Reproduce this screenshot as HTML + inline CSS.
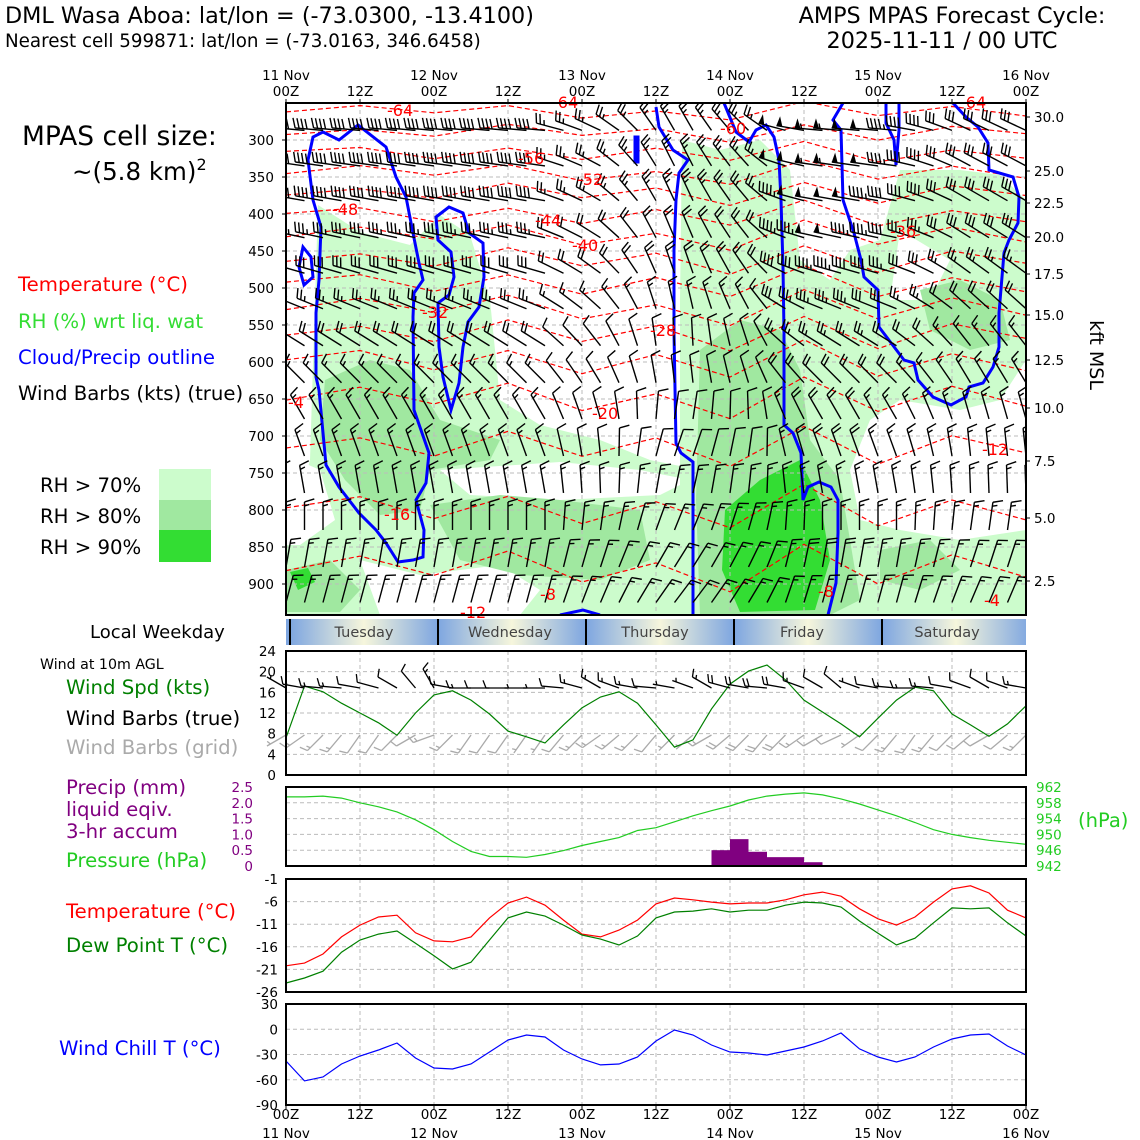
<!DOCTYPE html>
<html><head><meta charset="utf-8"><style>
body{margin:0;background:#fff}
svg{display:block;font-family:"DejaVu Sans","Liberation Sans",sans-serif}
</style></head><body>
<svg id="c" width="1140" height="1140" viewBox="0 0 1140 1140" xmlns="http://www.w3.org/2000/svg">
<defs>
<linearGradient id="wk" x1="0" x2="1" y1="0" y2="0">
<stop offset="0" stop-color="#7ea6e0"/><stop offset="0.5" stop-color="#f6f6dc"/><stop offset="1" stop-color="#7ea6e0"/>
</linearGradient>
<clipPath id="mainClip"><rect x="286" y="103" width="740" height="512"/></clipPath>
</defs>
<g>
<text x="5" y="23" font-size="22.3">DML Wasa Aboa: lat/lon = (-73.0300, -13.4100)</text>
<text x="5" y="47" font-size="18.3">Nearest cell 599871: lat/lon = (-73.0163, 346.6458)</text>
<text x="952" y="23" font-size="22.3" text-anchor="middle">AMPS MPAS Forecast Cycle:</text>
<text x="942" y="48" font-size="22.3" text-anchor="middle">2025-11-11 / 00 UTC</text>
</g>
<g font-size="19.7">
<text x="22" y="145" font-size="26.5">MPAS cell size:</text>
<text x="72" y="180" font-size="24.5">~(5.8 km)<tspan dy="-10" font-size="16">2</tspan></text>
<text x="18" y="291" fill="#ff0000">Temperature (°C)</text>
<text x="18" y="328" fill="#33dd33">RH (%) wrt liq. wat</text>
<text x="18" y="364" fill="#0000ff">Cloud/Precip outline</text>
<text x="18" y="400">Wind Barbs (kts) (true)</text>
<text x="40" y="492">RH &gt; 70%</text>
<text x="40" y="523">RH &gt; 80%</text>
<text x="40" y="554">RH &gt; 90%</text>
<rect x="159" y="469" width="52" height="31" fill="#ccfccc"/>
<rect x="159" y="500" width="52" height="30" fill="#a0e8a0"/>
<rect x="159" y="530" width="52" height="32" fill="#33dd33"/>
<text x="90" y="638" font-size="18">Local Weekday</text>
<text x="40" y="669" font-size="14.2">Wind at 10m AGL</text>
<text x="66" y="694" fill="#008000">Wind Spd (kts)</text>
<text x="66" y="725">Wind Barbs (true)</text>
<text x="66" y="754" fill="#aaaaaa">Wind Barbs (grid)</text>
<text x="66" y="794" fill="#800080">Precip (mm)</text>
<text x="66" y="816" fill="#800080">liquid eqiv.</text>
<text x="66" y="838" fill="#800080">3-hr accum</text>
<text x="66" y="867" fill="#22cc22">Pressure (hPa)</text>
<text x="66" y="918" fill="#ff0000">Temperature (°C)</text>
<text x="66" y="952" fill="#008000">Dew Point T (°C)</text>
<text x="59" y="1055" fill="#0000ff">Wind Chill T (°C)</text>
</g>
<g id="mainfill" clip-path="url(#mainClip)">
<path fill="#ccfccc" d="M318,205 L360,232 L410,245 L440,215 L470,235 L490,300 L500,400 L540,425 L600,440 L650,460 L700,470 L700,615 L286,615 L286,540 L300,500 L310,460 L315,300 Z"/>
<path fill="#ffffff" d="M440,470 L560,462 L640,470 L690,480 L660,495 L560,500 L470,495 Z"/>
<path fill="#ffffff" d="M286,455 L320,470 L335,520 L300,545 L286,545 Z"/>
<path fill="#ffffff" d="M360,560 L420,575 L500,565 L540,590 L520,615 L380,615 Z"/>
<path fill="#ccfccc" d="M682,140 L720,150 L760,140 L790,170 L800,260 L830,280 L850,250 L880,240 L900,170 L960,170 L1000,175 L1026,200 L1026,360 L1000,400 L960,410 L900,400 L870,420 L850,470 L860,520 L900,530 L960,540 L1026,530 L1026,615 L680,615 L680,300 Z"/>
<path fill="#ffffff" d="M880,420 L1000,410 L1026,420 L1026,525 L960,530 L900,515 L860,470 Z"/>
<path fill="#ffffff" d="M900,230 L950,260 L930,300 L890,300 Z"/>
<path fill="#a0e8a0" d="M325,380 L370,360 L410,370 L440,420 L500,440 L490,460 L430,470 L420,510 L380,515 L345,480 L320,440 Z"/>
<path fill="#a0e8a0" d="M430,505 L500,495 L560,500 L640,510 L650,560 L600,580 L520,575 L460,560 Z"/>
<path fill="#a0e8a0" d="M286,570 L330,560 L360,590 L340,612 L286,612 Z"/>
<path fill="#a0e8a0" d="M700,350 L740,320 L780,330 L800,370 L810,440 L840,480 L850,540 L860,600 L830,615 L700,615 L696,500 Z"/>
<path fill="#a0e8a0" d="M920,290 L960,280 L1000,300 L1010,340 L970,350 L930,330 Z"/>
<path fill="#a0e8a0" d="M880,550 L930,540 L960,570 L920,590 L880,580 Z"/>
<path fill="#33dd33" d="M725,510 L760,480 L800,460 L820,500 L830,560 L815,610 L740,612 L722,570 Z"/>
<path fill="#33dd33" d="M290,572 L308,568 L315,582 L298,590 Z"/>
</g>
<g id="grid-main"></g>
<g id="temps" clip-path="url(#mainClip)"></g>
<g id="clouds" clip-path="url(#mainClip)" fill="none" stroke="#0000ff" stroke-width="3">
<path d="M323,132 L339,140 L358,125 L386,147 L396,177 L406,197 L413,233 L419,263 L423,280 L414,293 L413,317 L414,410 L429,453 L426,483 L416,500 L424,530 L423,557 L413,560 L398,562 L386,543 L376,530 L359,513 L339,487 L326,465 L319,390 L316,377 L316,313 L319,280 L321,227 L313,200 L308,160 L313,137 Z"/>
<path d="M303,247 L311,257 L313,277 L304,285 L299,267 Z"/>
<path d="M449,207 L463,213 L469,233 L483,243 L484,277 L479,307 L468,322 L463,347 L459,383 L451,410 L443,377 L439,347 L438,303 L449,295 L454,277 L451,252 L438,240 L436,217 Z"/>
<path d="M560,615 L583,610 L600,615"/>
<path d="M635,162 L635,137 L638,137 L638,162 Z"/>
<path d="M656,107 L659,127 L673,150 L688,160 L679,173 L676,200 L674,250 L674,333 L676,443 L681,453 L693,462 L693,615"/>
<path d="M724,103 L736,132 L749,142 L756,130 L766,125 L774,137 L779,160 L781,200 L783,267 L784,333 L784,425 L793,433 L801,453 L803,500 L808,487 L819,482 L831,487 L838,500 L838,533 L836,583 L828,615"/>
<path d="M843,103 L833,120 L841,130 L843,200 L854,233 L861,260 L864,277 L878,290 L879,327 L904,360 L914,363 L918,380 L933,397 L951,405 L966,397 L969,387 L983,383 L993,367 L999,347 L999,313 L1004,253 L1009,240 L1018,223 L1019,197 L1013,177 L989,170 L988,143 L978,127 L966,117 L953,103"/>
<path d="M886,103 L886,123 L894,140 L896,165 L899,130 L899,103"/>
</g>
<g id="barbs" clip-path="url(#mainClip)"></g>
<g id="tlabels" font-size="16" fill="#ff0000">
<text x="387" y="116">-64</text><text x="552" y="108">-64</text><text x="960" y="108">-64</text>
<text x="720" y="134">-60</text><text x="518" y="164">-56</text><text x="577" y="185">-52</text>
<text x="332" y="215">-48</text><text x="535" y="226">-44</text><text x="572" y="251">-40</text>
<text x="890" y="237">-36</text><text x="422" y="318">-32</text><text x="650" y="336">-28</text>
<text x="592" y="419">-20</text><text x="288" y="408">-4</text><text x="982" y="455">-12</text>
<text x="384" y="520">-16</text><text x="540" y="600">-8</text><text x="818" y="597">-8</text>
<text x="460" y="618">-12</text><text x="984" y="606">-4</text>
</g>
<rect x="286" y="103" width="740" height="512" fill="none" stroke="#000" stroke-width="2"/>
<g id="axes"></g>
<g>
<rect x="286" y="619" width="740" height="26" fill="#7ea6e0"/>
<rect x="290" y="619" width="148" height="26" fill="url(#wk)"/>
<rect x="438" y="619" width="148" height="26" fill="url(#wk)"/>
<rect x="586" y="619" width="148" height="26" fill="url(#wk)"/>
<rect x="734" y="619" width="148" height="26" fill="url(#wk)"/>
<rect x="882" y="619" width="148" height="26" fill="url(#wk)"/>
<rect x="1026" y="619" width="10" height="26" fill="#fff"/>
<g stroke="#000" stroke-width="2"><line x1="290" y1="619" x2="290" y2="645"/><line x1="438" y1="619" x2="438" y2="645"/><line x1="586" y1="619" x2="586" y2="645"/><line x1="734" y1="619" x2="734" y2="645"/><line x1="882" y1="619" x2="882" y2="645"/></g>
<g font-size="14.5" fill="#444" text-anchor="middle">
<text x="364" y="637">Tuesday</text><text x="510" y="637">Wednesday</text><text x="655" y="637">Thursday</text><text x="802" y="637">Friday</text><text x="947" y="637">Saturday</text></g>
</g>
<g id="plots"></g>
<text transform="translate(1090,355) rotate(90)" font-size="19" text-anchor="middle">kft MSL</text>
<text x="1078" y="827" font-size="19.5" fill="#22cc22">(hPa)</text>
</svg>
<script>
// ---------- data ----------
const hours = Array.from({length:41},(_,i)=>i*3);
const windSpd = [7.2,17.2,16.1,13.9,12,10.1,7.7,12,15.5,16.3,14.5,11.8,8.5,7.4,6.2,9.7,13,15.1,16.1,13.9,9.7,5.4,6.8,12.8,17.6,20.1,21.3,18.4,14.5,12.2,9.9,7.4,11,14.5,17,16.3,11.8,9.7,7.5,9.9,13.4];
const windDir10 = [300,280,275,275,280,285,300,320,330,280,270,270,270,270,270,275,285,300,290,280,275,280,290,300,285,280,275,280,290,300,310,290,280,275,270,275,280,290,300,290,280];
const gridDir10 = [240,235,225,220,215,215,225,240,250,225,215,215,215,215,215,220,225,235,230,225,220,225,230,240,230,225,220,225,235,240,245,235,225,220,215,220,225,230,240,230,225];
const pressure = [959.5,959.5,959.7,959.2,958,957,955.7,953.7,951.2,948.2,945.7,944.4,944.4,944.2,944.9,945.9,947.2,948.2,949.2,951,951.7,953.2,954.7,956,957.2,958.7,959.7,960.2,960.5,960,959,957.7,956.2,954.7,953,951.2,950,949.2,948.5,948,947.5];
const precip = [0,0,0,0,0,0,0,0,0,0,0,0,0,0,0,0,0,0,0,0,0,0,0,0.5,0.85,0.45,0.28,0.28,0.12,0,0,0,0,0,0,0,0,0,0,0,0];
const temp2m = [-20.2,-19.6,-17.6,-13.8,-11.2,-9.4,-9.0,-12.9,-14.7,-14.9,-13.8,-9.6,-6.3,-5.0,-6.8,-10.1,-13.2,-13.8,-12.3,-10.1,-6.5,-5.2,-5.6,-6.1,-6.5,-6.3,-6.3,-5.6,-4.5,-3.9,-4.8,-7.6,-9.8,-11.2,-9.4,-6.1,-3.2,-2.5,-4.1,-7.9,-9.6];
const dewpt = [-24,-22.9,-21.4,-17.2,-14.5,-13.2,-12.5,-15.2,-18,-20.9,-19.4,-14.5,-9.6,-8.3,-9.2,-11.2,-13.4,-14.3,-15.6,-13.6,-9.6,-8.3,-8.1,-7.6,-8.3,-7.9,-7.9,-6.8,-6.1,-6.3,-7.2,-10.3,-13,-15.6,-14.1,-10.7,-7.4,-7.6,-7.4,-10.7,-13.6];
const windChill = [-37.7,-61.4,-56.7,-41.3,-31.8,-24.6,-16.3,-34.1,-46,-47.2,-41.3,-27,-12.8,-6.8,-9.2,-24.6,-35.3,-42.4,-41.3,-33,-14,-0.9,-6.8,-18.7,-27,-28.2,-30.6,-25.8,-21.1,-14,-4.4,-23.4,-33,-38.9,-33,-21.1,-11.6,-6.8,-5.6,-19.9,-30.6];
// upper-air winds
const barbLevels = [287,335,382,432,480,528,578,628,677,727,777,827,877,925];
const levelSpd = [40,40,38,36,32,26,20,17,15,15,15,15,16,15];
const levelDir = [275,278,280,282,286,292,302,315,330,340,350,0,10,15];
const timeSpdFac = [1,1,1,1,1,1,1,1,1,1,1,1,1,1,1,0.6,0.6,0.6,0.6,0.6,0.6,0.6,0.6,0.6,0.6,0.6,0.6,1.2,1.3,1.35,1.35,1.3,1.2,1.1,1,1,0.8,0.8,0.8,0.8,0.8];
const timeDirOff = [0,0,0,0,0,0,0,0,0,0,0,0,0,0,0,10,15,20,30,40,50,55,55,50,45,40,30,10,5,0,0,0,0,0,5,10,15,20,20,20,20];
// temperature contours (value, base pressure)
const contourVals = [-64,-60,-56,-52,-48,-44,-40,-36,-32,-28,-24,-20,-16,-12,-8,-4];
const contourBaseP = [262,290,318,345,372,402,430,462,495,528,562,600,650,715,800,880];
const contourWobble = [0,-6,4,-8,6,-4,10,-12,8,-6,4];
// axis ticks
const pTicks = [300,350,400,450,500,550,600,650,700,750,800,850,900];
const kftTicks = [["30.0",117],["25.0",171],["22.5",203],["20.0",237],["17.5",274],["15.0",315],["12.5",360],["10.0",408],["7.5",461],["5.0",518],["2.5",581]];
const spdTicks = [0,4,8,12,16,20,24];
const precipTicks = [0,0.5,1.0,1.5,2.0,2.5];
const presTicks = [942,946,950,954,958,962];
const tempTicks = [-26,-21,-16,-11,-6,-1];
const chillTicks = [-90,-60,-30,0,30];
const dayLabels = ["11 Nov","12 Nov","13 Nov","14 Nov","15 Nov","16 Nov"];

// ---------- scales ----------
const NS="http://www.w3.org/2000/svg";
const X0=286,X1=1026;
const xT=h=>X0+h*(X1-X0)/120;
const yP=p=>140+(p-300)*0.74;
const yW=v=>775-v*124/24;
const yPr=m=>866-m*79/2.5;
const yPs=h=>866-(h-942)*79/20;
const yT=c=>879+(-1-c)*113/25;
const yC=c=>1004+(30-c)*101/120;
function el(tag,attrs,parent){const e=document.createElementNS(NS,tag);for(const k in attrs)e.setAttribute(k,attrs[k]);parent.appendChild(e);return e;}

const gm=document.getElementById('grid-main');
for(let h=0;h<=120;h+=12){el('line',{x1:xT(h),x2:xT(h),y1:103,y2:615,stroke:'#bbb','stroke-dasharray':'4,3'},gm);}
pTicks.forEach(p=>{el('line',{x1:X0,x2:X1,y1:yP(p),y2:yP(p),stroke:'#bbb','stroke-dasharray':'4,3'},gm);});

const tg=document.getElementById('temps');
contourVals.forEach((v,k)=>{
  let d='';
  for(let i=0;i<contourWobble.length;i++){
    const p=contourBaseP[k]+contourWobble[i]*(1+k*0.12)+(k%2?3:-3)*Math.sin(i+k);
    d+=(i?'L':'M')+xT(i*12).toFixed(1)+','+yP(p).toFixed(1);
  }
  const pth=el('path',{d:d,fill:'none',stroke:'#ff0000','stroke-width':1.2,'stroke-dasharray':'5,3'},tg);
  
  
});

function barb(parent,x,y,spd,dir,L,color,w){
  const g=el('g',{stroke:color,'stroke-width':w,fill:color},parent);
  const r=Math.round(spd/5)*5;
  if(r<5){el('circle',{cx:x,cy:y,r:4,fill:'none'},g);return g;}
  const a=dir*Math.PI/180, sx=Math.sin(a), sy=-Math.cos(a);
  const tx=x+sx*L, ty=y+sy*L;
  el('line',{x1:x,y1:y,x2:tx,y2:ty},g);
  const px=-sy, py=sx, h=L*0.35;
  let n=r, pos=0;
  while(n>=50){const bx=tx-sx*pos,by=ty-sy*pos;
    el('polygon',{points:`${bx},${by} ${bx+px*h-sx*2},${by+py*h-sy*2} ${bx-sx*6},${by-sy*6}`,stroke:'none'},g);pos+=7;n-=50;}
  while(n>=10){const bx=tx-sx*pos,by=ty-sy*pos;
    el('line',{x1:bx,y1:by,x2:bx+px*h+sx*3,y2:by+py*h+sy*3},g);pos+=4;n-=10;}
  if(n>=5){if(pos===0)pos=4;const bx=tx-sx*pos,by=ty-sy*pos;
    el('line',{x1:bx,y1:by,x2:bx+px*h*0.5+sx*1.5,y2:by+py*h*0.5+sy*1.5},g);}
  return g;
}
const bg=document.getElementById('barbs');
barbLevels.forEach((p,l)=>{
  for(let i=0;i<hours.length;i++){
    const w=l<7?1:(l<10?0.7:0.4);
    const s=levelSpd[l]*(1+(timeSpdFac[i]-1)*w);
    const d=levelDir[l]+timeDirOff[i]*w;
    const b=barb(bg,xT(hours[i]),yP(p),s,d,28,'#000',1.4);
    
    
  }
});

const ax=document.getElementById('axes');
function txt(parent,x,y,s,opts){const t=el('text',Object.assign({x:x,y:y,'font-size':13.5},opts||{}),parent);t.textContent=s;return t;}
for(let h=0;h<=120;h+=12){
  const x=xT(h);
  if(h%24===0){txt(ax,x,80,dayLabels[h/24],{'text-anchor':'middle'});txt(ax,x,96,'00Z',{'text-anchor':'middle'});
    txt(ax,x,1119,'00Z',{'text-anchor':'middle'});txt(ax,x,1138,dayLabels[h/24],{'text-anchor':'middle'});}
  else{txt(ax,x,96,'12Z',{'text-anchor':'middle'});txt(ax,x,1119,'12Z',{'text-anchor':'middle'});}
  el('line',{x1:x,x2:x,y1:99,y2:103,stroke:'#000'},ax);
  el('line',{x1:x,x2:x,y1:1105,y2:1109,stroke:'#000'},ax);
}
pTicks.forEach(p=>{txt(ax,274,yP(p)+5,String(p),{'text-anchor':'end'});el('line',{x1:282,x2:286,y1:yP(p),y2:yP(p),stroke:'#000'},ax);});
kftTicks.forEach(k=>{txt(ax,1034,k[1]+5,k[0]);el('line',{x1:1026,x2:1030,y1:k[1],y2:k[1],stroke:'#000'},ax);});

const pl=document.getElementById('plots');
function panel(y0,y1,name){
  const g=el('g',{},pl);
  
  
  for(let h=12;h<120;h+=12)el('line',{x1:xT(h),x2:xT(h),y1:y0,y2:y1,stroke:'#bbb','stroke-dasharray':'4,3'},g);
  return g;
}
function hgrid(g,ys){ys.forEach(y=>el('line',{x1:X0,x2:X1,y1:y,y2:y,stroke:'#bbb','stroke-dasharray':'4,3'},g));}
function frame(g,y0,y1){el('rect',{x:X0,y:y0,width:X1-X0,height:y1-y0,fill:'none',stroke:'#000','stroke-width':2},g);}
function line(g,vals,fy,color,name){
  const d=vals.map((v,i)=>(i?'L':'M')+xT(hours[i]).toFixed(1)+','+fy(v).toFixed(1)).join('');
  const p=el('path',{d:d,fill:'none',stroke:color,'stroke-width':1.2},g);
  
  
}
let g1=panel(651,775,'wind-panel');
hgrid(g1,spdTicks.slice(1,-1).map(yW));
spdTicks.forEach(v=>{txt(g1,276,yW(v)+5,String(v),{'text-anchor':'end'});});
for(let i=0;i<hours.length;i++){
  const gb=barb(g1,xT(hours[i]),735,windSpd[i],gridDir10[i],22,'#aaaaaa',1.3);
  
  
}
line(g1,windSpd,yW,'#008000','wind-speed-line');
for(let i=0;i<hours.length;i++){
  const tb=barb(g1,xT(hours[i]),688,windSpd[i],windDir10[i],22,'#000',1.3);
  
  
}
frame(g1,651,775);
let g2=panel(787,866,'precip-pressure-panel');
hgrid(g2,presTicks.slice(1,-1).map(yPs));
precip.forEach((v,i)=>{if(v>0){const r=el('rect',{x:xT(hours[i]),y:yPr(v),width:xT(3)-xT(0),height:866-yPr(v),fill:'#800080'},g2);
  }});
line(g2,pressure,yPs,'#22cc22','pressure-line');
precipTicks.forEach(v=>txt(g2,253,yPr(v)+5,v===0?'0':v.toFixed(1),{'text-anchor':'end',fill:'#800080'}));
presTicks.forEach(v=>txt(g2,1036,yPs(v)+5,String(v),{fill:'#22cc22'}));
frame(g2,787,866);
let g3=panel(879,992,'temperature-panel');
hgrid(g3,tempTicks.slice(1,-1).map(yT));
tempTicks.forEach(v=>txt(g3,278,yT(v)+5,String(v),{'text-anchor':'end'}));
line(g3,temp2m,yT,'#ff0000','temperature-line');
line(g3,dewpt,yT,'#008000','dewpoint-line');
frame(g3,879,992);
let g4=panel(1004,1105,'windchill-panel');
hgrid(g4,chillTicks.slice(1,-1).map(yC));
chillTicks.forEach(v=>txt(g4,278,yC(v)+5,String(v),{'text-anchor':'end'}));
line(g4,windChill,yC,'#0000ff','windchill-line');
frame(g4,1004,1105);
</script>
</body></html>
